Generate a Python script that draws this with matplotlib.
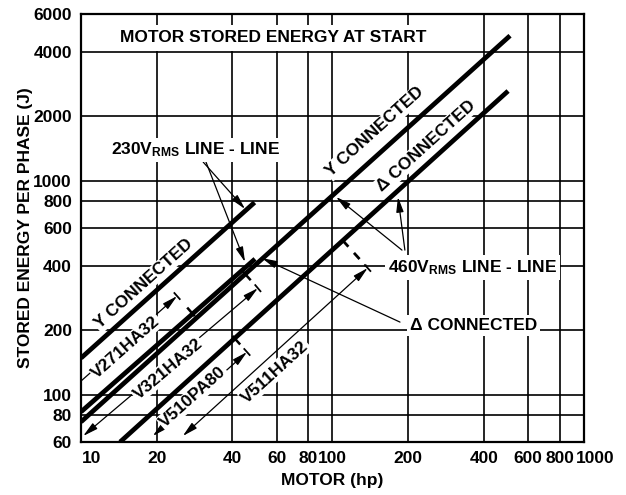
import numpy as np
import matplotlib.pyplot as plt
from matplotlib.ticker import FixedLocator, FixedFormatter, NullLocator
from matplotlib.transforms import ScaledTranslation

plt.rcParams['font.family'] = ['Liberation Sans', 'DejaVu Sans']
plt.rcParams['font.weight'] = 'bold'
plt.rcParams['mathtext.default'] = 'regular'

# axis ticks
x_ticks = [10, 20, 40, 60, 80, 100, 200, 400, 600, 800, 1000]
y_ticks = [60, 80, 100, 200, 400, 600, 800, 1000, 2000, 4000, 6000]

# stored energy per phase vs motor size (hp, joules), end points of each line
y230_hp = [10, 49]
y230_j = [148, 790]
d230_hp = [10, 49.2]
d230_j = [83, 430]
y460_hp = [10, 508]
y460_j = [74.5, 4750]
d460_hp = [14.3, 499]
d460_j = [60, 2620]

# varistor coverage ranges
v_names = ['V271HA32', 'V321HA32', 'V510PA80', 'V511HA32']
v_hp_lo = [10, 10.2, 19.3, 25.4]
v_j_lo = [115.6, 64, 64, 64]
v_hp_hi = [24.1, 50.5, 45.7, 138]
v_j_hi = [288.5, 314, 158, 390]

FS = 12.5

fig = plt.figure(figsize=(6.26, 4.95), dpi=100)
ax = fig.add_axes([81 / 626, 1 - 442 / 495, 503 / 626, 428 / 495])
ax.set_xscale('log')
ax.set_yscale('log')
ax.set_xlim(10, 1000)
ax.set_ylim(60, 6000)

ax.xaxis.set_major_locator(FixedLocator(x_ticks))
ax.xaxis.set_major_formatter(FixedFormatter([str(v) for v in x_ticks]))
ax.xaxis.set_minor_locator(NullLocator())
ax.yaxis.set_major_locator(FixedLocator(y_ticks))
ax.yaxis.set_major_formatter(FixedFormatter([str(v) for v in y_ticks]))
ax.yaxis.set_minor_locator(NullLocator())
ax.tick_params(length=0, labelsize=FS, pad=6.5)
ax.grid(True, color='black', lw=1.2)
ax.set_axisbelow(True)
for s in ax.spines.values():
    s.set_linewidth(1.6)

# end labels of the x axis sit inside the plot edges
xt = ax.xaxis.get_major_ticks()
for t in (xt[0], xt[-1]):
    t.label1.set_transform(t.label1.get_transform()
                           + ScaledTranslation(11 / 100, 0, fig.dpi_scale_trans))

ax.set_xlabel('MOTOR (hp)', fontsize=FS, fontweight='bold', labelpad=5)
ax.set_ylabel('STORED ENERGY PER PHASE (J)', fontsize=FS, fontweight='bold', labelpad=0)

# thick energy lines
lines = {}
for key, hp, j in [('y230', y230_hp, y230_j), ('d230', d230_hp, d230_j),
                   ('y460', y460_hp, y460_j), ('d460', d460_hp, d460_j)]:
    ax.plot(hp, j, color='black', lw=3.4, solid_capstyle='butt', zorder=3)
    lines[key] = (hp, j)


def to_px(x, y):
    return ax.transData.transform((x, y))


def to_data(p):
    return ax.transData.inverted().transform(p)


def screen_angle(x, y):
    p0, p1 = to_px(x[0], y[0]), to_px(x[1], y[1])
    return np.degrees(np.arctan2(p1[1] - p0[1], p1[0] - p0[0]))


def seg_px(p0, p1, **kw):
    d0, d1 = to_data(p0), to_data(p1)
    ax.plot([d0[0], d1[0]], [d0[1], d1[1]], color='black', zorder=3, **kw)


box = dict(facecolor='white', edgecolor='none', pad=1.0)
rot_kw = dict(fontsize=FS, fontweight='bold', ha='center', va='center',
              rotation_mode='anchor', bbox=box, zorder=4)

# labels along the energy lines
ax.text(17.8, 328, 'Y CONNECTED', rotation=screen_angle(y230_hp, y230_j), **rot_kw)
ax.text(147.6, 1686, 'Y CONNECTED', rotation=screen_angle(y460_hp, y460_j), **rot_kw)
ax.text(235.4, 1449, 'Δ CONNECTED', rotation=screen_angle(d460_hp, d460_j), **rot_kw)

# varistor range arrows
v_styles = ['-|>', '<|-|>', '<|-|>', '<|-|>']
v_label_pos = [(15.1, 166.8), (22.2, 131.6), (27.9, 97.3), (59.1, 127.4)]
v_guide_line = ['d230', 'y460', 'd460', 'd460']
for i, name in enumerate(v_names):
    lo = (v_hp_lo[i], v_j_lo[i])
    hi = (v_hp_hi[i], v_j_hi[i])
    ax.annotate('', xy=hi, xytext=lo, zorder=3, annotation_clip=False,
                arrowprops=dict(arrowstyle=v_styles[i] + ',head_length=0.9,head_width=0.22',
                                color='black', lw=0.9, shrinkA=0, shrinkB=0))
    ang = screen_angle([lo[0], hi[0]], [lo[1], hi[1]])
    ax.text(*v_label_pos[i], name, rotation=ang, **rot_kw)

    # end bar across the arrow tip
    p = to_px(*hi)
    u = np.array([np.cos(np.radians(ang)), np.sin(np.radians(ang))])
    n = np.array([-u[1], u[0]])
    seg_px(p - n * 4, p + n * 4, lw=1.3)

    # matching mark on the energy line
    lx, ly = lines[v_guide_line[i]]
    a, b = to_px(lx[0], ly[0]), to_px(lx[1], ly[1])
    d = (b - a) / np.linalg.norm(b - a)
    foot = a + d * np.dot(p - a, d)
    toward = (p - foot) / np.linalg.norm(p - foot)
    if name == 'V511HA32':
        seg_px(foot, p - toward * 3, lw=2.0, ls=(0, (3, 3)))
    else:
        seg_px(foot - toward * 2, foot + toward * 7, lw=1.8)

# callouts
arrow_kw = dict(arrowstyle='-|>,head_length=0.9,head_width=0.22', color='black',
                lw=0.9, shrinkA=0, shrinkB=0)
txt_kw = dict(fontsize=FS, fontweight='bold', ha='left', va='baseline',
              bbox=dict(facecolor='white', edgecolor='none', pad=2.0), zorder=4)

ax.text(13.16, 1323, '230V$_{RMS}$ LINE - LINE', **txt_kw)
ax.annotate('', xy=(44.9, 736), xytext=(30.6, 1220), arrowprops=arrow_kw, zorder=3)
ax.annotate('', xy=(44.9, 416), xytext=(31.4, 1220), arrowprops=arrow_kw, zorder=3)

ax.text(166.2, 373.6, '460V$_{RMS}$ LINE - LINE', **txt_kw)
ax.annotate('', xy=(103.3, 838), xytext=(188.9, 473), arrowprops=arrow_kw, zorder=3)
ax.annotate('', xy=(182.1, 838), xytext=(194, 473), arrowprops=arrow_kw, zorder=3)

ax.text(203.3, 200.2, 'Δ CONNECTED', **txt_kw)
ax.annotate('', xy=(52.4, 434), xytext=(185.5, 218), arrowprops=arrow_kw, zorder=3)

ax.text(0.382, 0.944, 'MOTOR STORED ENERGY AT START', transform=ax.transAxes,
        fontsize=FS, fontweight='bold', ha='center', va='center',
        bbox=dict(facecolor='white', edgecolor='none', pad=4.0), zorder=4)

fig.savefig('out.png', dpi=100)
